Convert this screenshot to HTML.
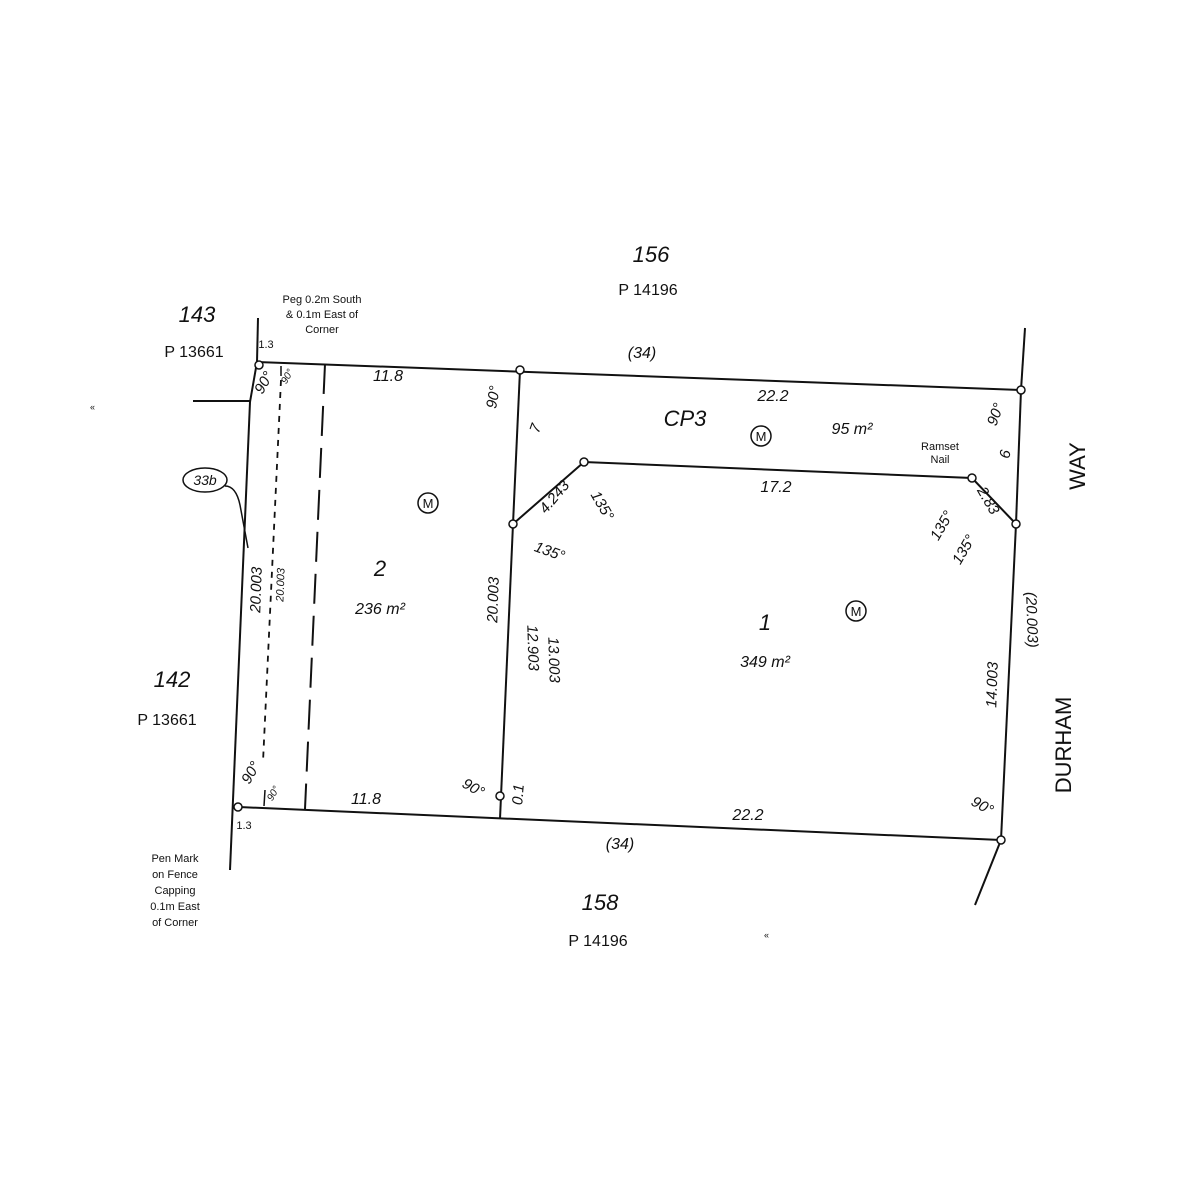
<!DOCTYPE html>
<html><head><meta charset="utf-8"><style>
html,body{margin:0;padding:0;background:#fff;}
svg{display:block}
text{font-family:"Liberation Sans",sans-serif;fill:#111;}
.it{font-style:italic;}
</style></head><body>
<svg width="1200" height="1200" viewBox="0 0 1200 1200" xmlns="http://www.w3.org/2000/svg">
<g stroke="#111" stroke-width="2" fill="none">
<!-- outer boundary -->
<line x1="258" y1="318" x2="257" y2="362"/>
<line x1="257" y1="362" x2="1021" y2="390"/>
<line x1="250" y1="402" x2="230" y2="870"/>
<line x1="193" y1="401" x2="250" y2="401"/>
<line x1="257" y1="362" x2="250" y2="402"/>
<line x1="239" y1="807" x2="1001" y2="840"/>
<line x1="1025" y1="328" x2="1021" y2="390"/>
<line x1="1021" y1="390" x2="1016" y2="524"/>
<line x1="1016" y1="524" x2="1001" y2="840"/>
<line x1="1001" y1="840" x2="975" y2="905"/>
<!-- inner -->
<line x1="520" y1="370" x2="513" y2="524"/>
<line x1="513" y1="524" x2="500" y2="819"/>
<polyline points="513,524 584,462 972,478 1016,524"/>
<line x1="325" y1="364" x2="305" y2="809" stroke-dasharray="30,12"/>
<line x1="281" y1="380" x2="263" y2="762" stroke-width="1.8" stroke-dasharray="6,6"/>
<line x1="265" y1="790" x2="264" y2="806" stroke-width="1.5"/>
<line x1="281" y1="366" x2="281" y2="376" stroke-width="1.5"/>
<!-- 33b -->
<ellipse cx="205" cy="480" rx="22" ry="12" stroke-width="1.5"/>
<path d="M225 486 Q236 486 240 505 L248 548" stroke-width="1.5"/>
</g>
<g fill="#fff" stroke="#111" stroke-width="1.5">
<circle cx="259" cy="365" r="4"/>
<circle cx="520" cy="370" r="4"/>
<circle cx="1021" cy="390" r="4"/>
<circle cx="513" cy="524" r="4"/>
<circle cx="584" cy="462" r="4"/>
<circle cx="972" cy="478" r="4"/>
<circle cx="1016" cy="524" r="4"/>
<circle cx="500" cy="796" r="4"/>
<circle cx="238" cy="807" r="4"/>
<circle cx="1001" cy="840" r="4"/>
<circle cx="428" cy="503" r="10"/>
<circle cx="761" cy="436" r="10"/>
<circle cx="856" cy="611" r="10"/>
</g>
<g font-size="13" text-anchor="middle">
<text x="428" y="508">M</text><text x="761" y="441">M</text><text x="856" y="616">M</text>
<text x="205" y="485" class="it" font-size="14">33b</text>
</g>
<g class="it" font-size="22" text-anchor="middle">
<text x="651" y="262">156</text>
<text x="197" y="322">143</text>
<text x="172" y="687">142</text>
<text x="600" y="910">158</text>
<text x="380" y="576">2</text>
<text x="765" y="630">1</text>
<text x="685" y="426">CP3</text>
</g>
<g font-size="16" text-anchor="middle">
<text x="648" y="295">P  14196</text>
<text x="194" y="357">P  13661</text>
<text x="167" y="725">P  13661</text>
<text x="598" y="946">P  14196</text>
</g>
<g font-size="16" class="it" text-anchor="middle">
<text x="388" y="381">11.8</text>
<text x="642" y="358">(34)</text>
<text x="773" y="401">22.2</text>
<text x="852" y="434">95 m²</text>
<text x="776" y="492">17.2</text>
<text x="380" y="614">236 m²</text>
<text x="765" y="667">349 m²</text>
<text x="366" y="804">11.8</text>
<text x="748" y="820">22.2</text>
<text x="620" y="849">(34)</text>
</g>
<g font-size="11" text-anchor="middle">
<text x="322" y="303">Peg 0.2m South</text>
<text x="322" y="318">&amp; 0.1m East of</text>
<text x="322" y="333">Corner</text>
<text x="266" y="348">1.3</text>
<text x="244" y="829">1.3</text>
<text x="175" y="862">Pen Mark</text>
<text x="175" y="878">on Fence</text>
<text x="175" y="894">Capping</text>
<text x="175" y="910">0.1m East</text>
<text x="175" y="926">of Corner</text>
<text x="940" y="450">Ramset</text>
<text x="940" y="463">Nail</text>
</g>
<g font-size="15" class="it" text-anchor="middle">
<text transform="translate(268,385) rotate(-60)">90°</text>
<text transform="translate(290,378) rotate(-60)" font-size="10">90°</text>
<text transform="translate(498,398) rotate(-80)">90°</text>
<text transform="translate(540,430) rotate(-70)">7</text>
<text transform="translate(558,500) rotate(-50)">4.243</text>
<text transform="translate(598,508) rotate(60)">135°</text>
<text transform="translate(548,556) rotate(20)">135°</text>
<text transform="translate(1000,416) rotate(-70)">90°</text>
<text transform="translate(1010,455) rotate(-80)">6</text>
<text transform="translate(984,503) rotate(60)">2.83</text>
<text transform="translate(946,528) rotate(-60)">135°</text>
<text transform="translate(968,552) rotate(-60)">135°</text>
<text transform="translate(261,590) rotate(-88)">20.003</text>
<text transform="translate(284,585) rotate(-88)" font-size="11">20.003</text>
<text transform="translate(498,600) rotate(-88)">20.003</text>
<text transform="translate(528,648) rotate(88)">12.903</text>
<text transform="translate(549,660) rotate(88)">13.003</text>
<text transform="translate(997,685) rotate(-88)">14.003</text>
<text transform="translate(1027,620) rotate(88)">(20.003)</text>
<text transform="translate(255,775) rotate(-60)">90°</text>
<text transform="translate(276,795) rotate(-60)" font-size="10">90°</text>
<text transform="translate(471,792) rotate(30)">90°</text>
<text transform="translate(523,795) rotate(-85)">0.1</text>
<text transform="translate(980,810) rotate(30)">90°</text>
</g>
<g font-size="22" text-anchor="middle">
<text transform="translate(1085,466) rotate(-90)">WAY</text>
<text transform="translate(1071,745) rotate(-90)">DURHAM</text>
</g>
<g font-size="9"><text x="90" y="410">«</text><text x="764" y="938">«</text></g>
</svg>
</body></html>
